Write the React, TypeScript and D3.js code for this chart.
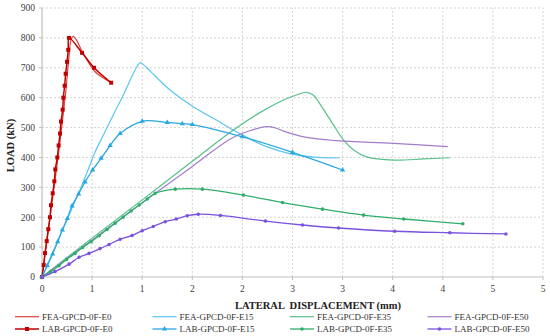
import React from "react";
import * as d3 from "d3";

// values (x = lateral displacement mm, y = load kN)
const feaE0X = [0, 0.04, 0.08, 0.12, 0.16, 0.2, 0.24, 0.27, 0.29, 0.31, 0.34, 0.4, 0.46, 0.52, 0.6, 0.69];
const feaE0Y = [0, 100, 200, 300, 400, 510, 630, 740, 795, 805, 795, 755, 720, 690, 668, 650];
const labE0X = [0, 0.017, 0.03, 0.047, 0.063, 0.08, 0.09, 0.107, 0.123, 0.133, 0.153, 0.166, 0.18, 0.19, 0.206, 0.213, 0.226, 0.236, 0.25, 0.262, 0.27, 0.4, 0.52, 0.69];
const labE0Y = [0, 40, 80, 120, 160, 200, 240, 280, 320, 360, 400, 440, 480, 520, 560, 600, 640, 680, 720, 760, 800, 750, 700, 650];

const feaE15X = [0, 0.1, 0.2, 0.3, 0.37, 0.45, 0.53, 0.62, 0.72, 0.82, 0.9, 0.95, 0.98, 1.02, 1.08, 1.28, 1.51, 1.74, 2.0, 2.24, 2.48, 2.74, 2.97];
const feaE15Y = [0, 77, 154, 231, 284, 350, 418, 480, 548, 615, 673, 705, 717, 708, 689, 625, 570, 525, 475, 436, 412, 400, 399];
const labE15X = [0, 0.053, 0.107, 0.157, 0.203, 0.253, 0.3, 0.366, 0.43, 0.505, 0.59, 0.68, 0.78, 1.0, 1.25, 1.4, 1.5, 2.0, 2.5, 3.0];
const labE15Y = [0, 38, 77, 118, 157, 196, 238, 278, 318, 358, 397, 440, 480, 521, 517, 513, 510, 469, 417, 358];

const feaE35X = [0, 0.5, 1.0, 1.5, 1.91, 2.2, 2.41, 2.54, 2.64, 2.71, 2.77, 2.91, 3.01, 3.11, 3.24, 3.51, 3.81, 4.07];
const feaE35Y = [0, 130, 258, 387, 492, 555, 592, 609, 618, 608, 581, 508, 458, 425, 402, 391, 395, 399];
const labE35X = [0, 0.087, 0.17, 0.246, 0.33, 0.406, 0.49, 0.57, 0.65, 0.73, 0.81, 0.89, 0.97, 1.05, 1.13, 1.33, 1.6, 2.01, 2.4, 2.8, 3.21, 3.61, 4.2];
const labE35Y = [0, 18, 38, 59, 79, 99, 118, 138, 159, 180, 200, 221, 241, 261, 280, 294, 294, 274, 249, 227, 207, 194, 178];

const feaE50X = [0, 0.5, 1.0, 1.5, 1.88, 2.08, 2.24, 2.32, 2.41, 2.64, 2.94, 3.51, 4.05];
const feaE50Y = [0, 124, 248, 370, 462, 490, 503, 500, 488, 467, 456, 447, 436];
const labE50X = [0, 0.13, 0.27, 0.37, 0.47, 0.58, 0.67, 0.78, 0.9, 1.0, 1.11, 1.23, 1.34, 1.45, 1.56, 1.78, 2.23, 2.6, 2.96, 3.52, 4.07, 4.63];
const labE50Y = [0, 18, 43, 66, 79, 95, 109, 126, 139, 155, 169, 185, 194, 205, 210, 206, 187, 174, 164, 153, 148, 144];

const xTickValues = [0, 0.5, 1, 1.5, 2, 2.5, 3, 3.5, 4, 4.5, 5];
const xTickLabels = ["0", "1", "1", "2", "2", "3", "3", "4", "4", "5", "5"];
const yTickValues = [0, 100, 200, 300, 400, 500, 600, 700, 800, 900];

const series = [
  { name: "FEA-GPCD-0F-E0", xs: feaE0X, ys: feaE0Y, color: "#d9453f", width: 1.2, marker: null },
  { name: "FEA-GPCD-0F-E15", xs: feaE15X, ys: feaE15Y, color: "#5cc6ee", width: 1.2, marker: null },
  { name: "FEA-GPCD-0F-E35", xs: feaE35X, ys: feaE35Y, color: "#58c08c", width: 1.2, marker: null },
  { name: "FEA-GPCD-0F-E50", xs: feaE50X, ys: feaE50Y, color: "#a47ccc", width: 1.2, marker: null },
  { name: "LAB-GPCD-0F-E0", xs: labE0X, ys: labE0Y, color: "#c00000", width: 1.5, marker: "square" },
  { name: "LAB-GPCD-0F-E15", xs: labE15X, ys: labE15Y, color: "#2aa8e0", width: 1.3, marker: "triangle" },
  { name: "LAB-GPCD-0F-E35", xs: labE35X, ys: labE35Y, color: "#2fae6b", width: 1.3, marker: "circle" },
  { name: "LAB-GPCD-0F-E50", xs: labE50X, ys: labE50Y, color: "#7a52e0", width: 1.3, marker: "circle" },
];

const font = "Liberation Serif, DejaVu Serif, Times New Roman, serif";

const markerPath = (kind: string | null) => {
  if (kind === "square") return d3.symbol(d3.symbolSquare, 16)();
  if (kind === "triangle") return d3.symbol(d3.symbolTriangle, 12)();
  if (kind === "circle") return d3.symbol(d3.symbolCircle, 10)();
  return null;
};

export default function App() {
  const width = 550;
  const height = 336;
  const m = { left: 42, right: 7, top: 8, bottom: 59 };

  const x = d3.scaleLinear().domain([0, 5]).range([m.left, width - m.right]);
  const y = d3.scaleLinear().domain([0, 900]).range([height - m.bottom, m.top]);

  const lineGen = (xs: number[], ys: number[]) =>
    d3
      .line<number>()
      .x((d, i) => x(xs[i]))
      .y((d) => y(d))
      .curve(d3.curveCatmullRom.alpha(0.5))(ys);

  const legendCols = [15, 152.5, 290, 427.5];
  const legendRows = [316.7, 329];

  return (
    <div style={{ position: "absolute", left: 0, top: 0 }}>
      <svg width={width} height={height} style={{ display: "block", background: "#fff", fontFamily: font }}>
        {/* grid */}
        {yTickValues.slice(1).map((v) => (
          <line key={"gy" + v} x1={x(0)} x2={x(5)} y1={y(v)} y2={y(v)} stroke="#d4d4d4" strokeWidth={1} strokeDasharray="2,2" />
        ))}
        {xTickValues.slice(1).map((v) => (
          <line key={"gx" + v} x1={x(v)} x2={x(v)} y1={y(0)} y2={y(900)} stroke="#d4d4d4" strokeWidth={1} strokeDasharray="2,2" />
        ))}

        {/* axes */}
        <line x1={x(0)} x2={x(0)} y1={y(0)} y2={y(900)} stroke="#bfbfbf" strokeWidth={1.2} />
        <line x1={x(0)} x2={x(5)} y1={y(0)} y2={y(0)} stroke="#bfbfbf" strokeWidth={1.2} />
        {xTickValues.map((v, i) => (
          <g key={"xt" + v}>
            <line x1={x(v)} x2={x(v)} y1={y(0)} y2={y(0) + 3} stroke="#bfbfbf" />
            <text x={x(v)} y={y(0) + 15} textAnchor="middle" fontSize={9.5} fill="#404040">
              {xTickLabels[i]}
            </text>
          </g>
        ))}
        {yTickValues.map((v) => (
          <g key={"yt" + v}>
            <line x1={x(0) - 3} x2={x(0)} y1={y(v)} y2={y(v)} stroke="#bfbfbf" />
            <text x={x(0) - 7} y={y(v)} dy="0.35em" textAnchor="end" fontSize={9.5} fill="#404040">
              {v}
            </text>
          </g>
        ))}

        {/* series */}
        {series.map((s) => (
          <path key={s.name} d={lineGen(s.xs, s.ys) || ""} fill="none" stroke={s.color} strokeWidth={s.width} />
        ))}
        {series
          .filter((s) => s.marker)
          .map((s) =>
            s.xs.map((xv, i) => (
              <path
                key={s.name + i}
                d={markerPath(s.marker) || ""}
                transform={`translate(${x(xv)},${y(s.ys[i])})`}
                fill={s.color}
              />
            ))
          )}

        {/* axis titles */}
        <text x={318} y={309} textAnchor="middle" fontSize={10.5} fontWeight="bold" fill="#222" style={{ whiteSpace: "pre" }}>
          LATERAL  DISPLACEMENT (mm)
        </text>
        <text
          transform={`translate(14,${(y(0) + y(900)) / 2 + 3}) rotate(-90)`}
          textAnchor="middle"
          fontSize={10.5}
          fontWeight="bold"
          fill="#222"
        >
          LOAD (kN)
        </text>

        {/* legend */}
        {series.map((s, i) => {
          const cx = legendCols[i % 4];
          const cy = legendRows[Math.floor(i / 4)];
          return (
            <g key={"lg" + s.name}>
              <line x1={cx} x2={cx + 24} y1={cy} y2={cy} stroke={s.color} strokeWidth={s.width} />
              {s.marker && (
                <path d={markerPath(s.marker) || ""} transform={`translate(${cx + 12},${cy})`} fill={s.color} />
              )}
              <text x={cx + 27} y={cy + 3.3} fontSize={9} fill="#333">
                {s.name}
              </text>
            </g>
          );
        })}
      </svg>
    </div>
  );
}
